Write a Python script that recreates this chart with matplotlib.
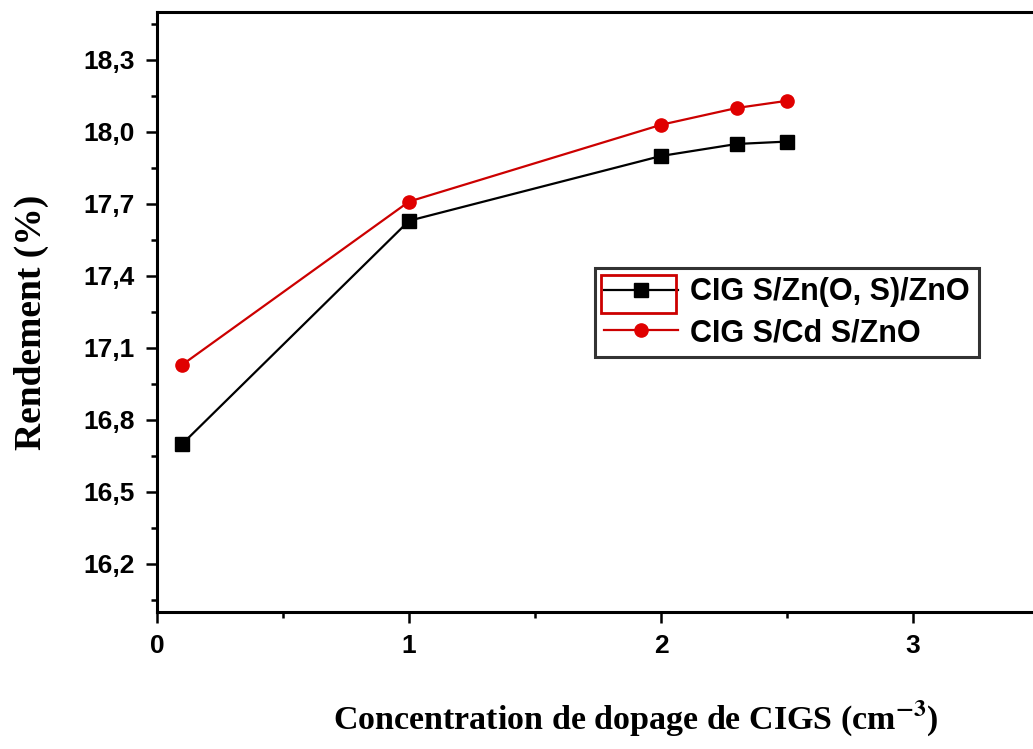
import matplotlib.pyplot as plt
from matplotlib.ticker import MultipleLocator, FuncFormatter
from matplotlib.patches import Rectangle

# doping concentration of the CIGS absorber
dopage = [0.1, 1.0, 2.0, 2.3, 2.5]

# efficiency (%) for each buffer layer
rend_znos = [16.70, 17.63, 17.90, 17.95, 17.96]
rend_cds = [17.03, 17.71, 18.03, 18.10, 18.13]

label_znos = 'CIG S/Zn(O, S)/ZnO'
label_cds = 'CIG S/Cd S/ZnO'

plt.rcParams['font.family'] = 'Liberation Sans'
plt.rcParams['font.weight'] = 'bold'
plt.rcParams['mathtext.fontset'] = 'stix'

fig = plt.figure(figsize=(10.33, 7.49), dpi=100)
# axes run past the right edge of the figure
ax = fig.add_axes([0.152, 0.183, 0.976, 0.801])

ax.plot(dopage, rend_znos, color='black', lw=1.6, marker='s', ms=10,
        mfc='black', mec='black', label=label_znos)
ax.plot(dopage, rend_cds, color='#cc0000', lw=1.6, marker='o', ms=9.5,
        mfc='#e00000', mec='#e00000', label=label_cds)

ax.set_xlim(0, 4)
ax.set_ylim(16.0, 18.5)
ax.set_xticks([0, 1, 2, 3])
ax.xaxis.set_minor_locator(MultipleLocator(0.5))
ax.yaxis.set_major_locator(MultipleLocator(0.3))
ax.yaxis.set_minor_locator(MultipleLocator(0.15))
ax.yaxis.set_major_formatter(FuncFormatter(lambda v, p: f'{v:.1f}'.replace('.', ',')))
ax.xaxis.set_major_formatter(FuncFormatter(lambda v, p: f'{v:.0f}'))

for s in ['left', 'bottom', 'top']:
    ax.spines[s].set_linewidth(2.2)
ax.spines['right'].set_visible(False)
ax.tick_params(which='major', direction='out', length=8, width=1.8, labelsize=19, pad=8)
ax.tick_params(which='minor', direction='out', length=4, width=1.8)
ax.tick_params(top=False, right=False)

ax.set_ylabel('Rendement (%)', family='Liberation Serif', fontsize=27,
              fontweight='bold')
ax.yaxis.set_label_coords(-0.107, 0.482)
ax.set_xlabel('Concentration de dopage de CIGS (cm$^{\\mathbf{-3}}$)',
              family='Liberation Serif', fontsize=24.5, fontweight='bold')
ax.xaxis.set_label_coords(0.475, -0.145)

leg = ax.legend(loc='upper left', bbox_to_anchor=(0.4345, 0.573), borderaxespad=0,
                fontsize=22, frameon=True, fancybox=False, shadow=False,
                handlelength=2.4, borderpad=0.3, labelspacing=0.35, handletextpad=0.4)
leg.get_frame().set_edgecolor('black')
leg.get_frame().set_linewidth(2.2)

# red selection box around the first legend symbol
fig.patches.append(Rectangle((601 / 1033, 1 - 313 / 749), 75 / 1033, 38 / 749,
                             transform=fig.transFigure, fill=False,
                             edgecolor='#cc0000', lw=2))

fig.savefig('out.png', dpi=100)
